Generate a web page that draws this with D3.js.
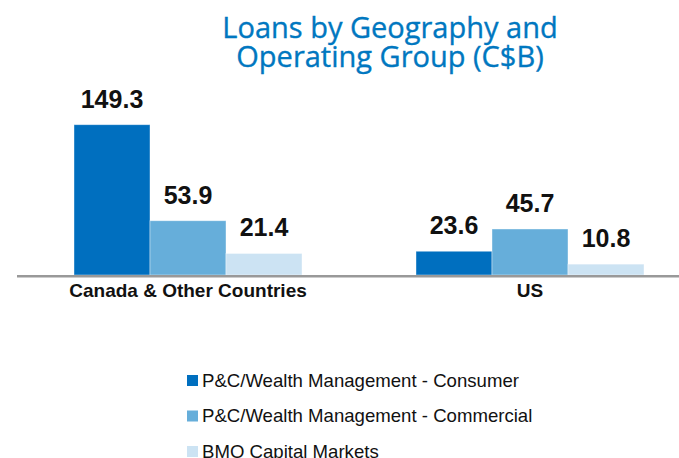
<!DOCTYPE html>
<html><head><meta charset="utf-8">
<script src="https://cdn.jsdelivr.net/npm/d3@7"></script>
<style>html,body{margin:0;padding:0;background:#fff;}svg{display:block;}</style>
</head><body>
<svg id="c" width="679" height="458"></svg>
<script>
const titleLines = ["Loans by Geography and", "Operating Group (C$B)"];
const categories = ["Canada & Other Countries", "US"];
const seriesNames = ["P&C/Wealth Management - Consumer", "P&C/Wealth Management - Commercial", "BMO Capital Markets"];
const consumer = [149.3, 23.6];
const commercial = [53.9, 45.7];
const capitalMarkets = [21.4, 10.8];
const colors = ["#006FBF", "#66AEDA", "#CCE3F3"];

const series = [consumer, commercial, capitalMarkets];
const svg = d3.select("#c");

// Title (one text element, two lines)
const title = svg.append("text")
  .attr("text-anchor", "middle")
  .attr("font-family", "Open Sans")
  .attr("font-size", 29)
  .attr("fill", "#0077C0")
  .attr("stroke", "#0077C0").attr("stroke-width", 0.35);
title.selectAll("tspan").data(titleLines).join("tspan")
  .attr("x", 390).attr("y", (d, i) => 37.5 + i * 29)
  .text(d => d);

const x0 = d3.scaleBand().domain(categories).range([17, 701]).paddingInner(1/3).paddingOuter(1/6);
const x1 = d3.scaleBand().domain(d3.range(seriesNames.length)).range([0, x0.bandwidth()]);
const y = d3.scaleLinear().domain([0, 150]).range([275, 124]);

const groups = svg.append("g").selectAll("g").data(categories).join("g")
  .attr("transform", d => `translate(${x0(d)},0)`);

groups.selectAll("rect").data((c, ci) => series.map((s, si) => ({si, v: s[ci]}))).join("rect")
  .attr("x", d => x1(d.si)).attr("width", x1.bandwidth())
  .attr("y", d => y(d.v)).attr("height", d => y(0) - y(d.v))
  .attr("fill", d => colors[d.si])
  .attr("stroke", "#ffffff").attr("stroke-opacity", 0.5).attr("stroke-width", 0.8);

groups.selectAll("text.val").data((c, ci) => series.map((s, si) => ({si, v: s[ci]}))).join("text")
  .attr("class", "val")
  .attr("x", d => x1(d.si) + x1.bandwidth() / 2)
  .attr("y", d => y(d.v) - 17)
  .attr("text-anchor", "middle")
  .attr("font-family", "Liberation Sans, Arial, sans-serif")
  .attr("font-weight", "bold").attr("font-size", 25).attr("fill", "#111")
  .text(d => d.v.toFixed(1));

// Axis
const axis = d3.axisBottom(x0).tickSize(0).tickPadding(0);
const ag = svg.append("g").attr("transform", "translate(0,275)").call(axis);
ag.select(".domain").attr("stroke", "#999").attr("stroke-width", 2.6).attr("d", "M17,1.2H701");
ag.selectAll(".tick text")
  .attr("y", 22).attr("dy", null)
  .attr("font-family", "Liberation Sans, Arial, sans-serif")
  .attr("font-weight", "bold").attr("font-size", 19).attr("fill", "#111");

// Legend
const lg = svg.append("g").selectAll("g").data(seriesNames).join("g")
  .attr("transform", (d, i) => `translate(187,${375 + i * 35.5})`);
lg.append("rect").attr("width", 11).attr("height", 11).attr("fill", (d, i) => colors[i]);
lg.append("text").attr("x", 15).attr("y", 11.7)
  .attr("font-family", "Liberation Sans, Arial, sans-serif")
  .attr("font-size", 18.6).attr("fill", "#111")
  .text(d => d);
</script>
</body></html>
